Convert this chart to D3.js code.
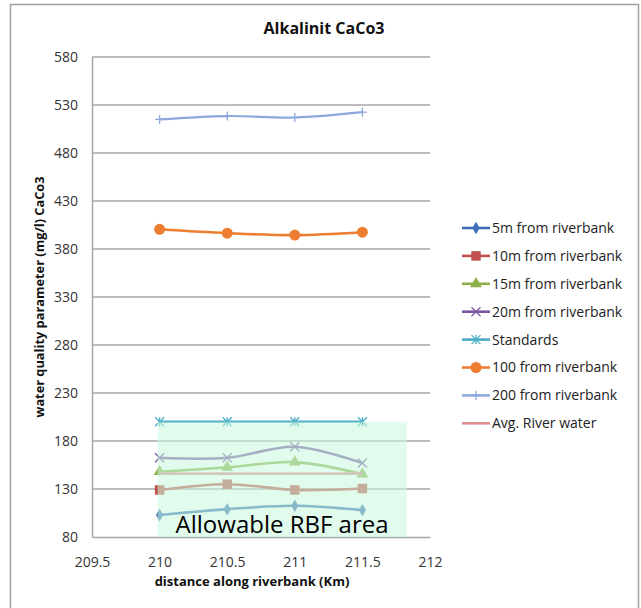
<!DOCTYPE html>
<html>
<head>
<meta charset="utf-8">
<script src="https://cdn.jsdelivr.net/npm/d3@7"></script>
<style>
    body { margin: 0; background: #fff; }
    text { font-family: "Open Sans", "Noto Sans", sans-serif; fill: #111; }
    .tick-label { font-size: 14px; fill: #333; }
    .axis-title { font-size: 13px; font-weight: bold; }
    .legend-label { font-size: 14px; fill: #222; }
</style>
</head>
<body>
<div id="wrapper"></div>
<script>
// data
const distances = [210, 210.5, 211, 211.5];
const seriesNames = ["5m from riverbank", "10m from riverbank", "15m from riverbank", "20m from riverbank",
    "Standards", "100 from riverbank", "200 from riverbank", "Avg. River water"];
const values5m = [103, 109, 112.5, 108];
const values10m = [129, 135, 129, 130.5];
const values15m = [148, 152.5, 158, 145.5];
const values20m = [162.5, 162.5, 174, 157];
const valuesStandards = [200, 200, 200, 200];
const values100 = [400.5, 396.5, 394.5, 397.5];
const values200 = [515, 518.5, 517, 522.5];
const valuesRiver = [146, 146, 146, 146];
const xTicks = [209.5, 210, 210.5, 211, 211.5, 212];
const yTicks = [80, 130, 180, 230, 280, 330, 380, 430, 480, 530, 580];
const rbfArea = { x: [209.985, 211.83], y: [80, 200], label: "Allowable RBF area" };

async function draw() {

    const seriesValues = [values5m, values10m, values15m, values20m, valuesStandards, values100, values200, valuesRiver];
    const colors = ["#3d6db5", "#c0504d", "#8db04a", "#7b57a2", "#4bacc6", "#ed7d31", "#8ea9db", "#d98e90"];
    const markers = ["diamond", "square", "triangle", "cross", "star", "circle", "plus", "none"];

    // 1. Chart dimensions
    let dimensions = {
        width: 641,
        height: 608,
        margin: { top: 57, right: 211, bottom: 71, left: 92 },
    };
    dimensions.boundedWidth = dimensions.width - dimensions.margin.left - dimensions.margin.right;
    dimensions.boundedHeight = dimensions.height - dimensions.margin.top - dimensions.margin.bottom;

    // 2. Draw canvas
    const wrapper = d3.select('#wrapper')
        .append('svg')
        .attr('width', dimensions.width)
        .attr('height', dimensions.height);

    // outer chart border
    wrapper.append('rect')
        .attr('x', 10.5).attr('y', 4.5)
        .attr('width', 628).attr('height', 610)
        .attr('fill', 'none')
        .attr('stroke', '#a0a0a0')
        .attr('stroke-width', 1.5);

    const bounds = wrapper.append('g')
        .attr('transform', `translate(${dimensions.margin.left},${dimensions.margin.top})`);

    // 3. Scales
    const xScale = d3.scaleLinear()
        .domain([209.5, 212])
        .range([0, dimensions.boundedWidth]);
    const yScale = d3.scaleLinear()
        .domain([80, 580])
        .range([dimensions.boundedHeight, 0]);

    // 4. Gridlines and axes
    bounds.selectAll('.grid')
        .data(yTicks.slice(1))
        .enter().append('line')
        .attr('x1', 0).attr('x2', dimensions.boundedWidth)
        .attr('y1', d => yScale(d)).attr('y2', d => yScale(d))
        .attr('stroke', '#a6a6a6').attr('stroke-width', 1.5);

    const yAxis = d3.axisLeft(yScale).tickValues(yTicks).tickSize(0).tickPadding(14);
    const yAxisGroup = bounds.append('g').call(yAxis);
    yAxisGroup.select('.domain').attr('stroke', '#a6a6a6').attr('stroke-width', 1.5);
    yAxisGroup.selectAll('text').attr('class', 'tick-label').style('font-family', null);

    const xAxis = d3.axisBottom(xScale).tickValues(xTicks).tickSize(0).tickPadding(20)
        .tickFormat(d3.format('~f'));
    const xAxisGroup = bounds.append('g')
        .attr('transform', `translate(0,${dimensions.boundedHeight})`)
        .call(xAxis);
    xAxisGroup.select('.domain').attr('stroke', '#a6a6a6').attr('stroke-width', 1.5);
    xAxisGroup.selectAll('text').attr('class', 'tick-label').style('font-family', null);

    // 5. Series
    const lineGenerator = d3.line()
        .x((d, i) => xScale(distances[i]))
        .y(d => yScale(d))
        .curve(d3.curveCatmullRom.alpha(0.5));

    const symbolType = {
        diamond: d3.symbolDiamond, square: d3.symbolSquare, triangle: d3.symbolTriangle,
        circle: d3.symbolCircle,
    };
    const symbolSize = { diamond: 45, square: 90, triangle: 60, circle: 95 };

    function drawMarker(g, type, color) {
        if (type === 'none') return;
        if (symbolType[type]) {
            g.append('path')
                .attr('d', d3.symbol(symbolType[type], symbolSize[type])())
                .attr('fill', color);
        } else {
            const s = 4.5;
            const segs = [];
            if (type === 'cross' || type === 'star') segs.push([-s, -s, s, s], [-s, s, s, -s]);
            if (type === 'plus' || type === 'star') segs.push([0, -s, 0, s]);
            if (type === 'plus') segs.push([-s, 0, s, 0]);
            segs.forEach(([a, b, c, e]) => g.append('line')
                .attr('x1', a).attr('y1', b).attr('x2', c).attr('y2', e)
                .attr('stroke', color).attr('stroke-width', 1.3));
        }
    }

    seriesValues.forEach((vals, k) => {
        bounds.append('path')
            .attr('d', lineGenerator(vals))
            .attr('fill', 'none')
            .attr('stroke', colors[k])
            .attr('stroke-width', k === 6 ? 2.2 : 2.6);
        vals.forEach((v, i) => {
            const g = bounds.append('g')
                .attr('transform', `translate(${xScale(distances[i])},${yScale(v)})`);
            drawMarker(g, markers[k], colors[k]);
        });
    });

    // 6. Allowable RBF area overlay
    bounds.append('rect')
        .attr('x', xScale(rbfArea.x[0]))
        .attr('y', yScale(rbfArea.y[1]))
        .attr('width', xScale(rbfArea.x[1]) - xScale(rbfArea.x[0]))
        .attr('height', yScale(rbfArea.y[0]) - yScale(rbfArea.y[1]))
        .attr('fill', 'rgb(200,250,222)')
        .attr('fill-opacity', 0.55);
    bounds.append('text')
        .attr('x', xScale(rbfArea.x[0]) + 18)
        .attr('y', dimensions.boundedHeight - 4)
        .style('font-size', '24px')
        .style('fill', '#000')
        .text(rbfArea.label);

    // 7. Titles
    wrapper.append('text')
        .attr('x', 324).attr('y', 34)
        .attr('text-anchor', 'middle')
        .style('font-size', '16px').style('font-weight', 'bold')
        .text('Alkalinit CaCo3');
    wrapper.append('text')
        .attr('class', 'axis-title')
        .attr('x', dimensions.margin.left + dimensions.boundedWidth / 2 - 9)
        .attr('y', 586)
        .attr('text-anchor', 'middle')
        .text('distance along riverbank (Km)');
    wrapper.append('text')
        .attr('class', 'axis-title')
        .attr('transform', `translate(44,${dimensions.margin.top + dimensions.boundedHeight / 2}) rotate(-90)`)
        .attr('text-anchor', 'middle')
        .style('font-size', '12.8px')
        .text('water quality parameter (mg/l) CaCo3');

    // 8. Legend
    const legendGroup = wrapper.append('g')
        .attr('transform', 'translate(462,228)');
    seriesNames.forEach((name, k) => {
        const item = legendGroup.append('g')
            .attr('transform', `translate(0,${k * 27.9})`);
        item.append('line')
            .attr('x1', 0).attr('x2', 28)
            .attr('stroke', colors[k]).attr('stroke-width', 2.6);
        const m = item.append('g').attr('transform', 'translate(14,0)');
        drawMarker(m, markers[k], colors[k]);
        item.append('text')
            .attr('class', 'legend-label')
            .attr('x', 30)
            .attr('dy', '0.35em')
            .text(name);
    });
}

draw();
</script>
</body>
</html>
